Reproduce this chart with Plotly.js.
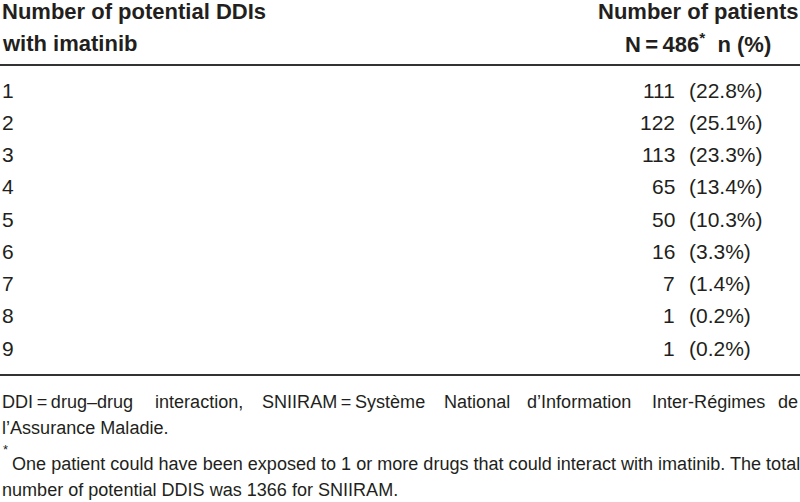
<!DOCTYPE html>
<html>
<head>
<meta charset="utf-8">
<script src="https://cdn.plot.ly/plotly-3.0.1.min.js"></script>
<style>
  html, body { margin: 0; padding: 0; background: #fff; }
  #tbl { width: 800px; height: 502px; }
</style>
</head>
<body>
<div id="tbl"></div>
<script>
// table values
var ddiCounts = [1, 2, 3, 4, 5, 6, 7, 8, 9];
var patients = [111, 122, 113, 65, 50, 16, 7, 1, 1];
var percents = ['22.8%', '25.1%', '23.3%', '13.4%', '10.3%', '3.3%', '1.4%', '0.2%', '0.2%'];
var totalN = 486;

var colHead1 = ['Number of potential DDIs', 'with imatinib'];
var colHead2 = ['Number of patients', 'N\u2009=\u2009' + totalN + '<sup>*</sup>  n (%)'];

var footLine1 = ['DDI\u2009=\u2009drug\u2013drug', 'interaction,', 'SNIIRAM\u2009=\u2009Syst\u00e8me', 'National', 'd\u2019Information', 'Inter-R\u00e9gimes', 'de'];
var footLine2 = 'l\u2019Assurance Maladie.';
var footLine3 = 'One patient could have been exposed to 1 or more drugs that could interact with imatinib. The total';
var footLine4 = 'number of potential DDIS was 1366 for SNIIRAM.';

var FONT = '"Liberation Sans", Arial, Helvetica, sans-serif';
var INK = '#231f20';
var H = 502;

var py = function(px) { return 1 - px / H; };

// measure a string so the justified footnote fills the width
var ctx = document.createElement('canvas').getContext('2d');
var textWidth = function(txt, size) {
    ctx.font = size + 'px "Liberation Sans", Arial, sans-serif';
    return ctx.measureText(txt).width;
};
var footSize = Math.min(19, 100 * 789 / textWidth(footLine3, 100));

var annotations = [];

function addText(txt, x, y, anchor, size, bold, xref, yref) {
    annotations.push({
        text: bold ? '<b>' + txt + '</b>' : txt,
        x: x, y: y,
        xref: xref || 'x', yref: yref || 'paper',
        xanchor: anchor, yanchor: 'middle',
        showarrow: false,
        font: {family: FONT, size: size, color: INK}
    });
}

// header
addText(colHead1[0], 0, py(12), 'left', 22, true);
addText(colHead1[1], 0, py(43), 'left', 22, true);
addText(colHead2[0], 800, py(12), 'right', 22, true);
addText(colHead2[1], 698, py(43), 'center', 22, true);

// body rows on the y axis
for (var i = 0; i < ddiCounts.length; i++) {
    addText(String(ddiCounts[i]), 0, ddiCounts[i], 'left', 21, false, 'x', 'y');
    addText(String(patients[i]), 677, ddiCounts[i], 'right', 21, false, 'x', 'y');
    addText('(' + percents[i] + ')', 687, ddiCounts[i], 'left', 21, false, 'x', 'y');
}

// footnotes (first line is justified)
var footX = [0, 153, 260, 442, 525, 650, 800];
for (var j = 0; j < footLine1.length; j++) {
    addText(footLine1[j], footX[j], py(402), j === footLine1.length - 1 ? 'right' : 'left', footSize, false);
}
addText(footLine2, 0, py(428), 'left', footSize, false);
addText('*', 1, py(449), 'left', 13, false);
addText(footLine3, 10, py(464), 'left', footSize, false);
addText(footLine4, 0, py(490), 'left', footSize, false);

var shapes = [
    {type: 'line', xref: 'paper', yref: 'paper', x0: 0, x1: 1, y0: py(65), y1: py(65), line: {color: '#333', width: 2}},
    {type: 'line', xref: 'paper', yref: 'paper', x0: 0, x1: 1, y0: py(375), y1: py(375), line: {color: '#333', width: 2}}
];

// y axis: row 1 at 90px, 32.25px per row
var rowPx = 32.25;
var yTop = 1 - 90 / rowPx;
var yBot = 1 + (H - 90) / rowPx;

var layout = {
    width: 800,
    height: H,
    margin: {t: 0, b: 0, l: 0, r: 0},
    paper_bgcolor: '#fff',
    plot_bgcolor: '#fff',
    showlegend: false,
    xaxis: {range: [0, 800], visible: false, fixedrange: true},
    yaxis: {range: [yBot, yTop], visible: false, fixedrange: true},
    annotations: annotations,
    shapes: shapes
};

Plotly.newPlot('tbl', [], layout, {displayModeBar: false, staticPlot: true});
</script>
</body>
</html>
